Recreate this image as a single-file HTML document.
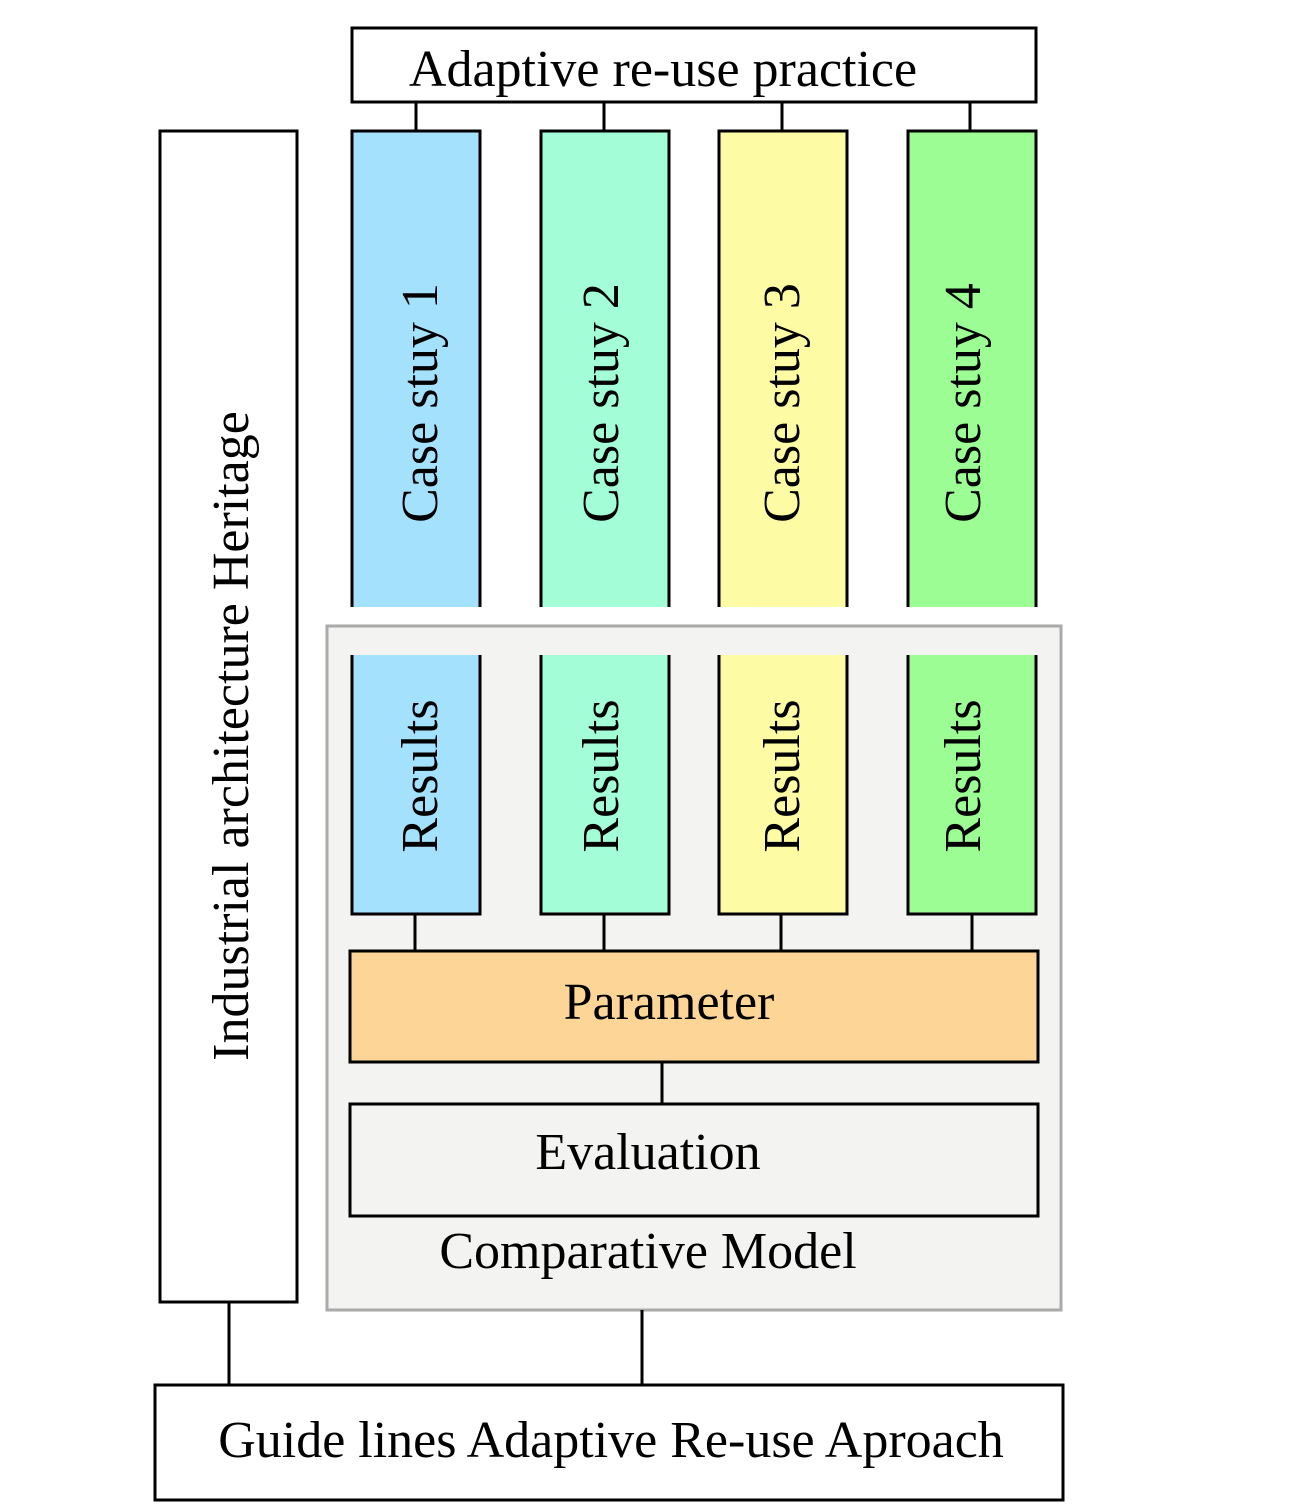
<!DOCTYPE html>
<html><head><meta charset="utf-8"><style>
html,body{margin:0;padding:0;background:#fff;width:1296px;height:1508px;overflow:hidden}
text{font-family:"Liberation Serif",serif;fill:#000}
</style></head><body>
<svg width="1296" height="1508" xmlns="http://www.w3.org/2000/svg">
<g stroke="#000" stroke-width="3" fill="none">
<rect x="352" y="28" width="684" height="74" fill="#fff"/>
<rect x="160" y="131" width="137" height="1171" fill="#fff"/>
<line x1="416" y1="102" x2="416" y2="131"/>
<line x1="604" y1="102" x2="604" y2="131"/>
<line x1="782" y1="102" x2="782" y2="131"/>
<line x1="970" y1="102" x2="970" y2="131"/>
</g>
<g stroke="#000" stroke-width="3">
<rect x="352" y="131" width="128" height="476" fill="#a4e1fd" stroke="none"/>
<rect x="541" y="131" width="128" height="476" fill="#a3fdd6" stroke="none"/>
<rect x="719" y="131" width="128" height="476" fill="#fdfca5" stroke="none"/>
<rect x="908" y="131" width="128" height="476" fill="#9bfd93" stroke="none"/>
<polyline fill="none" points="352,607 352,131 480,131 480,607"/>
<polyline fill="none" points="541,607 541,131 669,131 669,607"/>
<polyline fill="none" points="719,607 719,131 847,131 847,607"/>
<polyline fill="none" points="908,607 908,131 1036,131 1036,607"/>
</g>
<rect x="327" y="626" width="734" height="684" fill="#f3f3f1" stroke="#aaa" stroke-width="3"/>
<g stroke="#000" stroke-width="3">
<rect x="352" y="655" width="128" height="259" fill="#a4e1fd" stroke="none"/>
<rect x="541" y="655" width="128" height="259" fill="#a3fdd6" stroke="none"/>
<rect x="719" y="655" width="128" height="259" fill="#fdfca5" stroke="none"/>
<rect x="908" y="655" width="128" height="259" fill="#9bfd93" stroke="none"/>
<polyline fill="none" points="352,655 352,914 480,914 480,655"/>
<polyline fill="none" points="541,655 541,914 669,914 669,655"/>
<polyline fill="none" points="719,655 719,914 847,914 847,655"/>
<polyline fill="none" points="908,655 908,914 1036,914 1036,655"/>
<line x1="415" y1="914" x2="415" y2="951"/>
<line x1="604" y1="914" x2="604" y2="951"/>
<line x1="781" y1="914" x2="781" y2="951"/>
<line x1="972" y1="914" x2="972" y2="951"/>
<rect x="350" y="951" width="688" height="111" fill="#fcd597"/>
<line x1="662" y1="1062" x2="662" y2="1104"/>
<rect x="350" y="1104" width="688" height="112" fill="#f3f3f1"/>
<line x1="229" y1="1302" x2="229" y2="1388"/>
<line x1="642" y1="1310" x2="642" y2="1390"/>
<rect x="155" y="1385" width="908" height="115" fill="#fff"/>
</g>
<text x="663" y="86" font-size="52" text-anchor="middle">Adaptive re-use practice</text>
<text transform="translate(248,736) rotate(-90)" font-size="52" text-anchor="middle">Industrial architecture Heritage</text>
<text transform="translate(437,403) rotate(-90)" font-size="52" text-anchor="middle">Case stuy 1</text>
<text transform="translate(618,403) rotate(-90)" font-size="52" text-anchor="middle">Case stuy 2</text>
<text transform="translate(799,403) rotate(-90)" font-size="52" text-anchor="middle">Case stuy 3</text>
<text transform="translate(980,403) rotate(-90)" font-size="52" text-anchor="middle">Case stuy 4</text>
<text transform="translate(437,776) rotate(-90)" font-size="52" text-anchor="middle">Results</text>
<text transform="translate(618,776) rotate(-90)" font-size="52" text-anchor="middle">Results</text>
<text transform="translate(799,776) rotate(-90)" font-size="52" text-anchor="middle">Results</text>
<text transform="translate(980,776) rotate(-90)" font-size="52" text-anchor="middle">Results</text>
<text x="669" y="1019" font-size="52" text-anchor="middle">Parameter</text>
<text x="648" y="1169" font-size="52" text-anchor="middle">Evaluation</text>
<text x="648" y="1268" font-size="52" text-anchor="middle">Comparative Model</text>
<text x="611" y="1457" font-size="52" text-anchor="middle">Guide lines Adaptive Re-use Aproach</text>
</svg>
</body></html>
